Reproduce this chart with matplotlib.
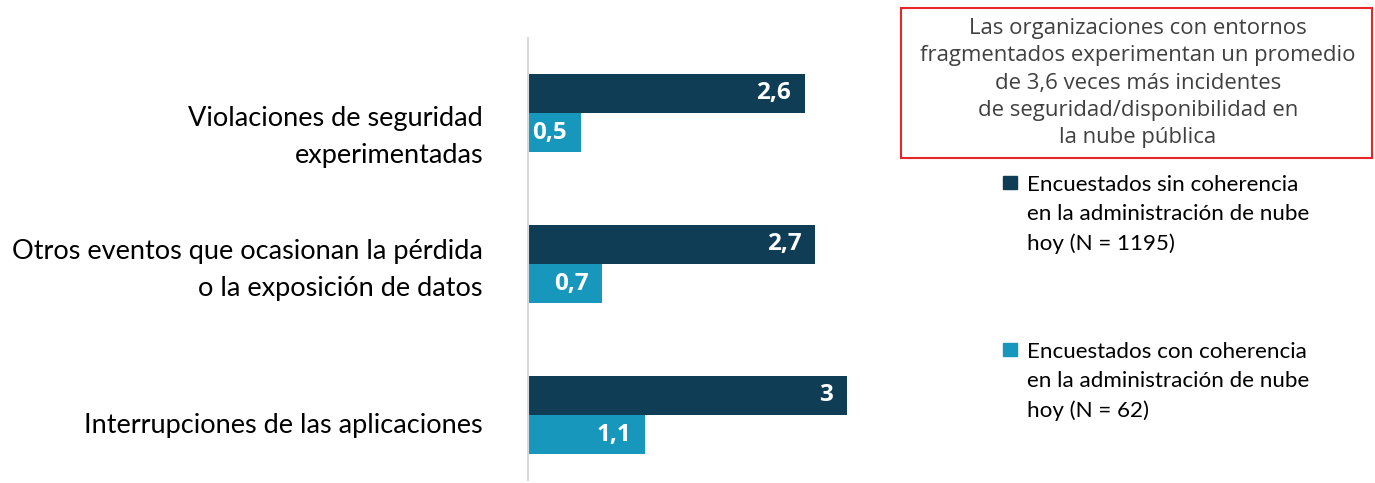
import matplotlib.pyplot as plt
from matplotlib.patches import Rectangle
from matplotlib.transforms import blended_transform_factory

# ===== data =====
categories = ['Violaciones de seguridad\nexperimentadas',
              'Otros eventos que ocasionan la pérdida\no la exposición de datos',
              'Interrupciones de las aplicaciones']
sin_coherencia = [2.6, 2.7, 3.0]
con_coherencia = [0.5, 0.7, 1.1]
value_labels_sin = ['2,6', '2,7', '3']
value_labels_con = ['0,5', '0,7', '1,1']
legend_labels = ['Encuestados sin coherencia\nen la administración de nube\nhoy (N = 1195)',
                 'Encuestados con coherencia\nen la administración de nube\nhoy (N = 62)']
callout = ('Las organizaciones con entornos\nfragmentados experimentan un promedio\n'
           'de 3,6 veces más incidentes\nde seguridad/disponibilidad en\nla nube pública')

dark = '#0f3d55'
light = '#1797bc'
plt.rcParams['font.family'] = ['Lato', 'DejaVu Sans']

W, H = 1375, 483
fig = plt.figure(figsize=(W / 100, H / 100), dpi=100)
ax = fig.add_axes([528 / W, 1 - 480 / H, 351 / W, 442 / H])

bh = 0.26
ys = list(range(len(categories)))
ax.barh([y - bh / 2 for y in ys], sin_coherencia, height=bh, color=dark)
ax.barh([y + bh / 2 for y in ys], con_coherencia, height=bh, color=light)

# etiquetas de valor dentro de la barra
for y, v, t in zip(ys, sin_coherencia, value_labels_sin):
    ax.annotate(t, (v, y - bh / 2), xytext=(-14, 0), textcoords='offset pixels',
                ha='right', va='center', color='white', fontsize=17.5, fontweight='bold',
                family=['Open Sans', 'DejaVu Sans'])
for y, v, t in zip(ys, con_coherencia, value_labels_con):
    ax.annotate(t, (v, y + bh / 2), xytext=(-14, 0), textcoords='offset pixels',
                ha='right', va='center', color='white', fontsize=17.5, fontweight='bold',
                family=['Open Sans', 'DejaVu Sans'])

ax.set_xlim(0, 3.3)
ax.set_ylim(2.43, -0.497)
ax.set_xticks([])
ax.set_yticks([])
for s in ['top', 'right', 'bottom']:
    ax.spines[s].set_visible(False)
ax.spines['left'].set_color('#d9d9d9')
ax.spines['left'].set_linewidth(1.5)

# categorias
tr = blended_transform_factory(fig.transFigure, ax.transData)
cat_offsets = [0.16, 0.04, 0.07]
for y, c, off in zip(ys, categories, cat_offsets):
    fig.text(483 / W, y + off, c, transform=tr, ha='right', va='center',
             fontsize=19.5, color='black', linespacing=1.6)

# recuadro rojo
fig.patches.append(Rectangle((901 / W, 1 - 158 / H), 471 / W, 150 / H,
                             transform=fig.transFigure, fill=False,
                             edgecolor='#e8262a', linewidth=1.5))
fig.text(1138 / W, 1 - 83 / H, callout, ha='center', va='center', fontsize=15.9,
         color='#404040', linespacing=1.38, family=['Open Sans', 'DejaVu Sans'])

# leyenda
for (ytop, col, lab) in [(176, dark, legend_labels[0]), (343, light, legend_labels[1])]:
    fig.patches.append(Rectangle((1003 / W, 1 - (ytop + 13) / H), 14 / W, 13 / H,
                                 transform=fig.transFigure, color=col))
    fig.text(1027 / W, 1 - (ytop - 1) / H, lab, ha='left', va='top',
             fontsize=16.1, color='black', linespacing=1.55)

fig.savefig('out.png', dpi=100)
